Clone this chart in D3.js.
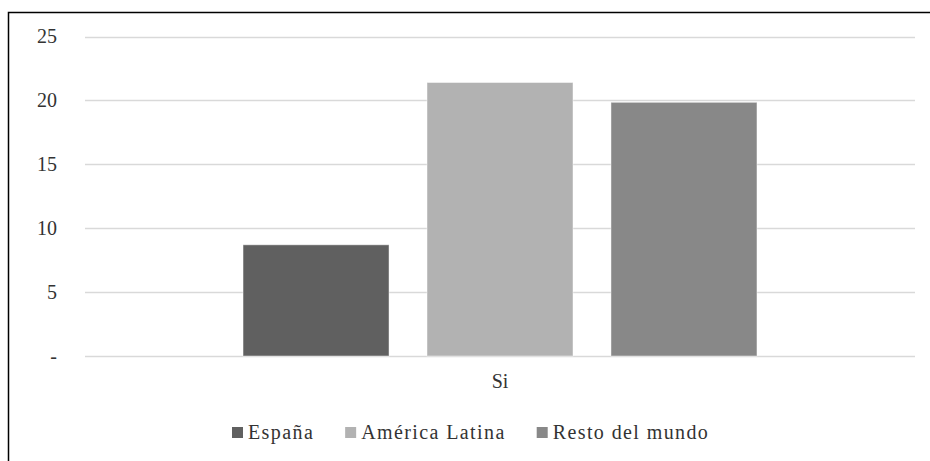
<!DOCTYPE html>
<html>
<head>
<meta charset="utf-8">
<script src="https://cdn.jsdelivr.net/npm/d3@7"></script>
</head>
<body style="margin:0">
<svg id="chart" width="930" height="461"></svg>
<script>
// Chart data
const categories = ["Si"];
const seriesNames = ["España", "América Latina", "Resto del mundo"];
const seriesValues = [8.7, 21.4, 19.85];
const seriesColors = ["#606060", "#b2b2b2", "#888888"];
const yTicks = [0, 5, 10, 15, 20, 25];
const yTickLabels = ["-", "5", "10", "15", "20", "25"];

const W = 930, H = 461;
const margin = { left: 85, right: 15, top: 36.5, bottom: 105 };
const TEXT_COLOR = "#333333";
const svg = d3.select("#chart").style("display", "block");

// Plain text label in the chart's serif face
function addLabel(parent, x, y, str, anchor, spacing) {
  const t = parent.append("text")
    .attr("x", x).attr("y", y)
    .style("font-family", "\"Liberation Serif\"")
    .style("font-size", "20px")
    .style("fill", TEXT_COLOR)
    .attr("text-anchor", anchor)
    .text(str);
  if (spacing) t.style("letter-spacing", spacing + "px");
  return t;
}

// Outer frame (runs off the right and bottom edges)
svg.append("rect")
  .attr("x", 8.5).attr("y", 12.5)
  .attr("width", W + 20).attr("height", H + 20)
  .attr("fill", "none").attr("stroke", "#000").attr("stroke-width", 1.5);

const x0 = d3.scaleBand()
  .domain(categories)
  .range([margin.left, W - margin.right])
  .paddingInner(0).paddingOuter(0.3075);

const x1 = d3.scaleBand()
  .domain(seriesNames)
  .range([0, x0.bandwidth()])
  .paddingInner(0.2065).paddingOuter(0);

const y = d3.scaleLinear()
  .domain([0, 25])
  .range([H - margin.bottom, margin.top]);

// Horizontal gridlines
svg.append("g")
  .selectAll("line")
  .data(yTicks)
  .join("line")
  .attr("x1", margin.left).attr("x2", W - margin.right)
  .attr("y1", d => Math.round(y(d)) + 0.5).attr("y2", d => Math.round(y(d)) + 0.5)
  .attr("stroke", "#d9d9d9").attr("stroke-width", 1.5);

// Y axis labels
const yg = svg.append("g");
yTicks.forEach((v, i) => addLabel(yg, 57, y(v) + 6.5, yTickLabels[i], "end"));

// Bars
const rows = categories.map(c => ({ cat: c, vals: seriesNames.map((s, i) => ({ s, v: seriesValues[i], c: seriesColors[i] })) }));
svg.append("g")
  .selectAll("g")
  .data(rows)
  .join("g")
  .attr("transform", d => `translate(${x0(d.cat)},0)`)
  .selectAll("rect")
  .data(d => d.vals)
  .join("rect")
  .attr("x", d => x1(d.s))
  .attr("y", d => y(d.v))
  .attr("width", x1.bandwidth())
  .attr("height", d => y(0) - y(d.v))
  .attr("fill", d => d.c)
  .attr("stroke", "rgba(255,255,255,0.45)")
  .attr("stroke-width", 1);

// Category label
const xg = svg.append("g");
categories.forEach(c => addLabel(xg, x0(c) + x0.bandwidth() / 2, y(0) + 32, c, "middle"));

// Legend
const legend = svg.append("g").attr("transform", "translate(232,0)");
let lx = 0;
seriesNames.forEach((name, i) => {
  const item = legend.append("g").attr("transform", `translate(${lx},0)`);
  item.append("rect")
    .attr("x", 0).attr("y", 427)
    .attr("width", 11).attr("height", 11)
    .attr("fill", seriesColors[i]);
  const t = addLabel(item, 16, 439, name, "start", 1.4);
  lx += 16 + t.node().getComputedTextLength() + 31;
});
</script>
</body>
</html>
